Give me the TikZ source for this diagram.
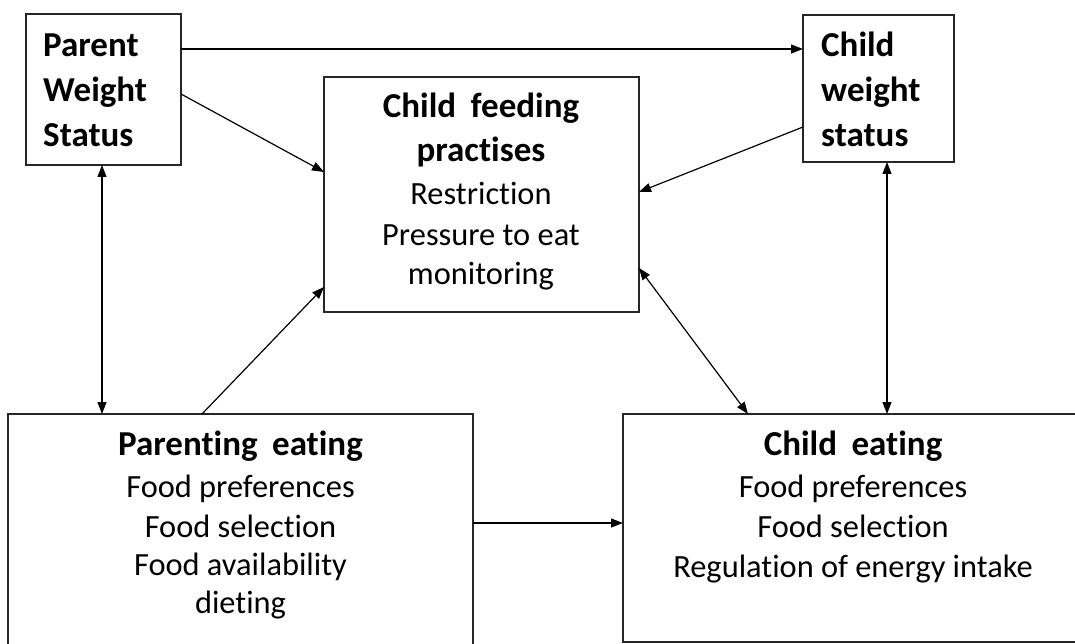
\documentclass[tikz,border=0pt]{standalone}
\usepackage{fontspec}
\setmainfont{Carlito}[Ligatures={NoCommon}]
\usetikzlibrary{arrows.meta,calc}
\tikzset{
  box/.style={draw=black!85, line width=1.5pt, inner sep=0pt, outer sep=0pt, anchor=north west, rectangle},
  ttl/.style={inner sep=0pt, font=\fontsize{35}{42}\selectfont\bfseries},
  body/.style={inner sep=0pt, font=\fontsize{32.4}{40}\selectfont},
  conn/.style={line width=1.2pt, -{Triangle[length=12pt,width=9pt]}},
  biconn/.style={line width=1.2pt, {Triangle[length=12pt,width=9pt]}-{Triangle[length=12pt,width=9pt]}},
}
\newcommand{\wsp}{\hspace{14.5pt}}
\begin{document}
\begin{tikzpicture}[x=1pt,y=-1pt]
\useasboundingbox (0,0) rectangle (1075,644);
\clip (0,0) rectangle (1075,644);
% boxes
\node[box, minimum width=155pt, minimum height=151pt] (pws) at (26,14) {};
\node[box, minimum width=151pt, minimum height=147pt] (cws) at (803,15) {};
\node[box, minimum width=315pt, minimum height=235pt] (cfp) at (324,77) {};
\node[box, minimum width=465pt, minimum height=260pt] (pe) at (8,414) {};
\node[box, minimum width=460pt, minimum height=228pt] (ce) at (623,414) {};
% texts: parent weight status
\node[ttl, anchor=base west] (t1) at (43,57) {Parent};
\node[ttl, anchor=base west] (t2) at (43,102) {Weight};
\node[ttl, anchor=base west] (t3) at (43,147) {Status};
% child weight status
\node[ttl, anchor=base west] (t4) at (821,57) {Child};
\node[ttl, anchor=base west] (t5) at (821,102) {weight};
\node[ttl, anchor=base west] (t6) at (821,147) {status};
% child feeding practises
\node[ttl, anchor=base] (t7) at (481,118) {Child\wsp feeding};
\node[ttl, anchor=base] (t8) at (481,162) {practises};
\node[body, anchor=base] (t9) at (481,205) {Restriction};
\node[body, anchor=base] (t10) at (481,245) {Pressure to eat};
\node[body, anchor=base] (t11) at (481,284) {monitoring};
% parenting eating
\node[ttl, anchor=base] (t12) at (240.5,455) {Parenting\wsp eating};
\node[body, anchor=base] (t13) at (240.5,497) {Food preferences};
\node[body, anchor=base] (t14) at (240.5,537) {Food selection};
\node[body, anchor=base] (t15) at (240.5,575) {Food availability};
\node[body, anchor=base] (t16) at (240.5,613) {dieting};
% child eating
\node[ttl, anchor=base] (t17) at (853,455) {Child\wsp eating};
\node[body, anchor=base] (t18) at (853,497) {Food preferences};
\node[body, anchor=base] (t19) at (853,537) {Food selection};
\node[body, anchor=base] (t20) at (853,577) {Regulation of energy intake};
% connectors
\draw[conn] ($(pws.north east)+(0,35)$) -- ($(cws.north west)+(0,34)$);
\draw[conn] ($(pws.north east)+(0,80)$) -- ($(cfp.north west)+(0,95)$);
\draw[conn] ($(cws.north west)+(0,112)$) -- ($(cfp.north east)+(0,115)$);
\draw[biconn] ($(pws.south west)+(76,0)$) -- ($(pe.north west)+(94,0)$);
\draw[conn] ($(pe.north west)+(194,0)$) -- ($(cfp.south west)+(0,-25)$);
\draw[biconn] ($(cfp.south east)+(0,-44)$) -- ($(ce.north west)+(125,0)$);
\draw[biconn] ($(cws.south west)+(84,0)$) -- ($(ce.north west)+(264,0)$);
\draw[conn] ($(pe.north east)+(0,109)$) -- ($(ce.north west)+(0,109)$);
\end{tikzpicture}
\end{document}
